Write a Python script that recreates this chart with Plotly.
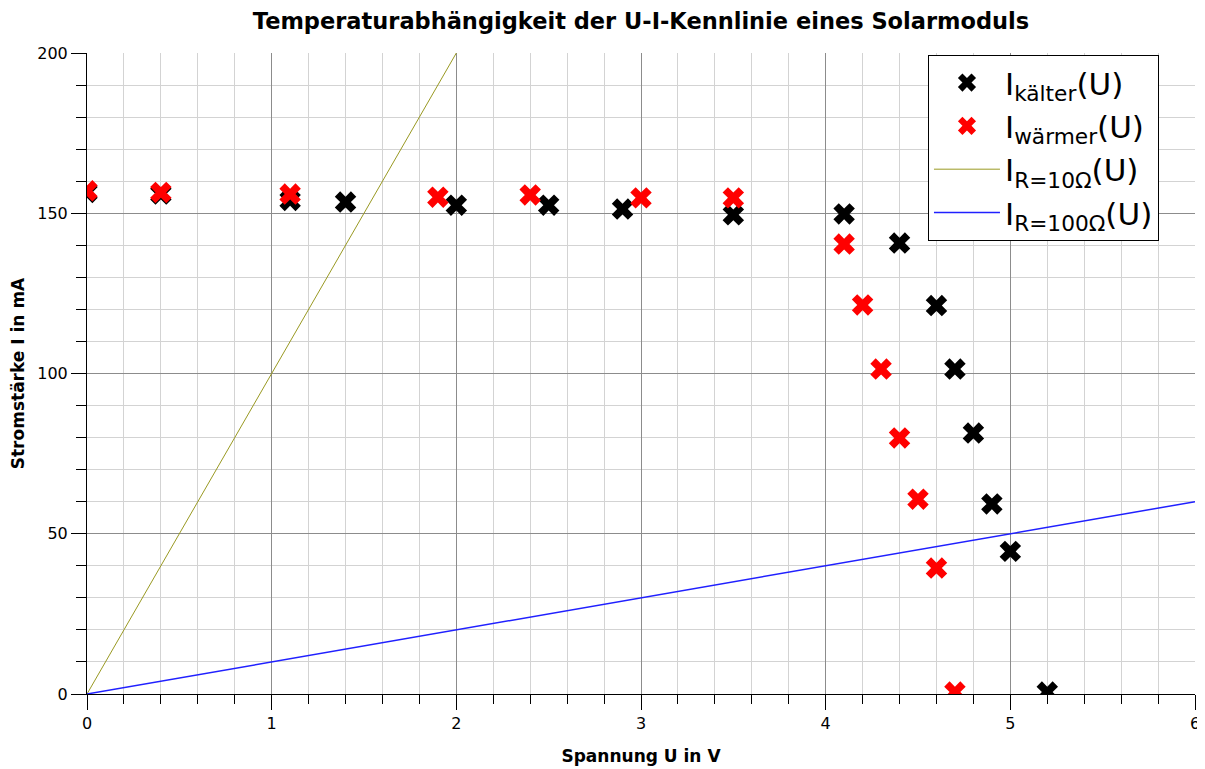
import plotly.graph_objects as go

u_kalt = [0.0, 0.4, 1.1, 1.4, 2.0, 2.5, 2.9, 3.5, 4.1, 4.4, 4.6, 4.7, 4.8, 4.9, 5.0, 5.2]
i_kalt = [156.5, 156, 154, 153.5, 152.5, 152.5, 151.3, 149.5, 149.8, 140.7, 121.2, 101.4, 81.4, 59.3, 44.5, 0.6]

u_warm = [0.0, 0.4, 1.1, 1.9, 2.4, 3.0, 3.5, 4.1, 4.2, 4.3, 4.4, 4.5, 4.6, 4.7]
i_warm = [157, 156.5, 156, 155, 155.7, 154.8, 154.8, 140.4, 121.4, 101.4, 79.9, 60.8, 39.3, 0.6]

# Widerstandsgeraden
u_r10 = [0, 2]
i_r10 = [0, 200]
u_r100 = [0, 6]
i_r100 = [0, 60]

FONT = "DejaVu Sans, sans-serif"

# page body adds an 8px margin, so the figure is drawn slightly smaller
W, H = 1197, 761

fig = go.Figure()

fig.add_trace(go.Scatter(
    x=u_kalt, y=i_kalt, mode="markers", name="I<sub>kälter</sub>(U)",
    marker=dict(symbol="x", size=19, color="black", line=dict(width=0))
))
fig.add_trace(go.Scatter(
    x=u_warm, y=i_warm, mode="markers", name="I<sub>wärmer</sub>(U)",
    marker=dict(symbol="x", size=19, color="red", line=dict(width=0))
))
fig.add_trace(go.Scatter(
    x=u_r10, y=i_r10, mode="lines", name="I<sub>R=10Ω</sub>(U)",
    line=dict(color="#999922", width=1)
))
fig.add_trace(go.Scatter(
    x=u_r100, y=i_r100, mode="lines", name="I<sub>R=100Ω</sub>(U)",
    line=dict(color="#2020ff", width=1.5)
))

fig.update_layout(
    width=W, height=H,
    margin=dict(l=79, r=10, t=45, b=75),
    plot_bgcolor="white", paper_bgcolor="white",
    font=dict(family=FONT, size=16, color="black"),
    title=dict(
        text="<b>Temperaturabhängigkeit der U-I-Kennlinie eines Solarmoduls</b>",
        x=(79 + 79 + 1108) / 2 / W, xanchor="center", y=1 - 13 / H, yanchor="middle",
        font=dict(family=FONT, size=22.5, color="black")
    ),
    legend=dict(
        x=0.759, y=0.997, xanchor="left", yanchor="top",
        bgcolor="white", bordercolor="black", borderwidth=1,
        font=dict(family=FONT, size=31, color="black"),
        itemwidth=66
    ),
)

fig.update_xaxes(
    range=[0, 6], dtick=1, tick0=0, automargin=False,
    showline=True, linecolor="black", linewidth=1,
    ticks="outside", ticklen=15, tickcolor="black",
    showgrid=True, gridcolor="#8c8c8c", gridwidth=1,
    zeroline=False,
    minor=dict(dtick=0.2, ticks="outside", ticklen=9, tickcolor="black",
               showgrid=True, gridcolor="#d3d3d3", gridwidth=1),
    title=dict(text="<b>Spannung U in V</b>", font=dict(family=FONT, size=17), standoff=17),
    tickfont=dict(family=FONT, size=16),
)
fig.update_yaxes(
    range=[0, 200], dtick=50, tick0=0, automargin=False,
    showline=True, linecolor="black", linewidth=1,
    ticks="outside", ticklen=15, tickcolor="black",
    showgrid=True, gridcolor="#8c8c8c", gridwidth=1,
    zeroline=False,
    minor=dict(dtick=10, ticks="outside", ticklen=10, tickcolor="black",
               showgrid=True, gridcolor="#d3d3d3", gridwidth=1),
    title=dict(text="<b>Stromstärke I in mA</b>", font=dict(family=FONT, size=17), standoff=8),
    tickfont=dict(family=FONT, size=16),
)

fig.write_html("out.html")
